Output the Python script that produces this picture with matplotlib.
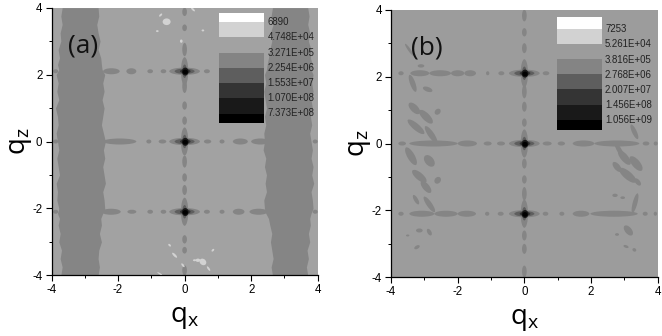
import matplotlib
matplotlib.use("Agg")
import matplotlib.pyplot as plt
from matplotlib.patches import Ellipse, Rectangle
from matplotlib.ticker import MultipleLocator

plt.rcParams["axes.unicode_minus"] = False

W, H = 662, 336
BG_A, BG_B = "#a2a2a2", "#9c9c9c"
BAND = "#858585"
LEVEL_COLORS = ["#848484", "#5e5e5e", "#343434", "#191919", "#000000"]

# legend text
labels_a = ["6890", "4.748E+04", "3.271E+05", "2.254E+06", "1.553E+07", "1.070E+08", "7.373E+08"]
labels_b = ["7253", "5.261E+04", "3.816E+05", "2.768E+06", "2.007E+07", "1.456E+08", "1.056E+09"]

# panel (a) bands: height, outer edge, inner edge of the left band; right band
band_z = [4.0, 3.75, 3.5, 3.25, 3.0, 2.75, 2.5, 2.3, 2.15, 2.0, 1.75, 1.5, 1.25, 1.0, 0.75, 0.5, 0.25, 0.0,
          -0.25, -0.5, -0.75, -1.0, -1.25, -1.5, -1.75, -2.0, -2.15, -2.3, -2.5, -2.75, -3.0, -3.25, -3.5, -3.75, -4.0]
left_outer = [-3.68, -3.72, -3.68, -3.74, -3.72, -3.80, -3.76, -3.82, -3.78, -3.86, -3.80, -3.84, -3.78, -3.88, -3.82, -3.80, -3.86, -3.82,
              -3.78, -3.84, -3.80, -3.76, -3.86, -3.82, -3.84, -3.78, -3.82, -3.76, -3.80, -3.74, -3.78, -3.70, -3.74, -3.68, -3.72]
left_inner = [-2.60, -2.58, -2.64, -2.60, -2.54, -2.60, -2.52, -2.50, -2.48, -2.40, -2.46, -2.42, -2.48, -2.42, -2.46, -2.50, -2.44, -2.38,
              -2.44, -2.40, -2.46, -2.42, -2.38, -2.46, -2.42, -2.40, -2.46, -2.52, -2.50, -2.56, -2.50, -2.58, -2.60, -2.56, -2.60]
right_inner = [2.64, 2.60, 2.66, 2.58, 2.62, 2.56, 2.52, 2.48, 2.46, 2.40, 2.44, 2.38, 2.42, 2.46, 2.40, 2.44, 2.38, 2.40,
               2.36, 2.44, 2.40, 2.46, 2.42, 2.46, 2.38, 2.40, 2.44, 2.52, 2.56, 2.62, 2.58, 2.62, 2.66, 2.60, 2.64]
right_outer = [3.70, 3.74, 3.70, 3.76, 3.72, 3.80, 3.78, 3.84, 3.80, 3.86, 3.82, 3.86, 3.80, 3.84, 3.78, 3.82, 3.76, 3.80,
               3.84, 3.80, 3.86, 3.82, 3.88, 3.80, 3.84, 3.86, 3.80, 3.76, 3.78, 3.72, 3.76, 3.68, 3.72, 3.66, 3.70]

# horizontal rows of dashes: (start, end) in qx
row_top_a = [(-3.95, -3.8), (-2.45, -1.95), (-1.75, -1.45), (-1.12, -0.95), (-0.72, -0.55), (0.58, 0.76)]
row_mid_a = [(-3.95, -3.8), (-2.45, -1.45), (-1.15, -1.0), (-0.78, -0.55), (0.58, 0.8), (1.05, 1.2), (1.45, 1.9), (2.0, 2.55), (3.85, 4.0)]
row_bot_a = [(-3.95, -3.8), (-2.5, -1.92), (-1.72, -1.45), (-1.12, -0.95), (-0.72, -0.55), (0.58, 0.76), (1.05, 1.2), (1.45, 1.8), (1.95, 2.5), (3.85, 4.0)]
row_top_b = [(-3.78, -3.62), (-3.42, -2.85), (-2.85, -2.2), (-2.2, -1.8), (-1.8, -1.45), (-1.15, -1.05), (-0.78, -0.6), (0.55, 0.75), (1.0, 1.1)]
row_mid_b = [(-3.78, -3.55), (-3.45, -2.0), (-2.0, -1.42), (-1.22, -0.98), (-0.82, -0.58), (0.55, 0.82), (1.0, 1.22), (1.45, 2.1), (2.1, 3.45), (3.55, 3.75), (3.88, 4.0)]
row_bot_b = [(-3.78, -3.62), (-3.45, -2.7), (-2.7, -2.0), (-2.0, -1.45), (-1.18, -1.05), (-0.8, -0.62), (0.55, 0.72), (1.05, 1.2), (1.45, 1.95), (1.98, 3.4), (3.55, 3.7), (3.88, 3.98)]

# vertical dashes on qx = 0: (start, end) in qz
col_a = [(3.75, 4.0), (3.3, 3.5), (2.55, 2.95), (1.45, 1.85), (0.95, 1.2), (0.5, 0.75), (-0.78, -0.42), (-1.2, -0.95), (-1.6, -1.3), (-3.05, -2.8), (-3.35, -3.15), (-4.0, -3.7)]
col_b = [(3.65, 4.0), (3.2, 3.45), (2.7, 3.0), (1.35, 1.75), (0.95, 1.25), (0.5, 0.75), (-0.75, -0.45), (-1.2, -0.95), (-1.7, -1.3), (-2.9, -2.6), (-3.3, -3.0), (-4.0, -3.65)]

# peak heights
peak_z = [2.1, 0.0, -2.1]

# light specks in (a): qx, qz, half-width, half-height, angle
specks_a = [(-0.54, 3.58, 0.12, 0.10, 0), (-0.72, 3.78, 0.06, 0.03, 45), (-0.82, 3.3, 0.04, 0.03, 0), (-0.1, 3.0, 0.04, 0.05, 0),
            (0.25, 3.95, 0.08, 0.03, -45), (0.55, 3.32, 0.04, 0.03, 0), (0.4, -3.55, 0.07, 0.05, 0), (0.55, -3.6, 0.11, 0.09, -40),
            (0.72, -3.8, 0.08, 0.03, -55), (-0.3, -3.4, 0.1, 0.035, -45), (-0.45, -3.1, 0.05, 0.03, -45), (0.3, -3.55, 0.05, 0.03, 0),
            (-0.05, -3.7, 0.07, 0.03, -50), (0.85, -3.25, 0.05, 0.03, 45), (-0.75, -3.95, 0.08, 0.02, -30)]

# darker streaks in (b): qx, qz, half-width, half-height, angle
streaks_b = [(-3.45, 2.8, 0.22, 0.04, -55), (-3.1, 2.32, 0.1, 0.05, 0), (-3.35, 1.8, 0.27, 0.08, -70), (-2.9, 1.62, 0.15, 0.07, -20),
             (-3.3, 1.05, 0.22, 0.11, -45), (-2.95, 0.8, 0.27, 0.11, -45), (-2.6, 0.95, 0.1, 0.08, 45), (-3.25, 0.5, 0.32, 0.1, -40),
             (-2.8, 0.27, 0.3, 0.09, -55), (-3.4, -0.38, 0.3, 0.11, -60), (-2.85, -0.52, 0.2, 0.13, -50), (-3.15, -0.98, 0.27, 0.11, -40),
             (-2.95, -1.3, 0.22, 0.1, -50), (-2.6, -1.1, 0.11, 0.09, 50), (-2.85, -1.82, 0.28, 0.08, -55), (-3.25, -1.68, 0.16, 0.06, -60),
             (-3.15, -2.6, 0.1, 0.06, 0), (-2.85, -2.65, 0.11, 0.06, -60), (-3.22, -3.1, 0.09, 0.05, 30), (-3.5, -2.75, 0.05, 0.03, 0),
             (2.85, -0.2, 0.27, 0.07, -60), (3.0, -0.42, 0.27, 0.11, -50), (3.35, -0.6, 0.27, 0.12, -50), (2.78, -0.7, 0.18, 0.09, -50),
             (3.1, -0.95, 0.32, 0.12, -40), (3.4, -1.15, 0.13, 0.07, -50), (2.72, -1.55, 0.08, 0.05, 0), (3.32, -1.78, 0.3, 0.07, 75),
             (2.95, -1.62, 0.07, 0.04, 0), (3.12, -2.6, 0.18, 0.1, -50), (2.78, -2.72, 0.06, 0.04, 0), (3.05, -3.08, 0.08, 0.04, -20),
             (3.3, -3.18, 0.06, 0.05, -30), (3.3, 0.35, 0.24, 0.07, -65)]


def ell(ax, x, z, rx, rz, color, angle=0, zorder=2):
    ax.add_patch(Ellipse((x, z), 2 * rx, 2 * rz, angle=angle, fc=color, ec="none", zorder=zorder))


def panel(box, bg, rows, col, peak_x, labels, tag, tag_xy, leg_x, leg_y, lab_x, lab_y):
    l, t, r, b = box
    ax = fig.add_axes([l / W, 1 - b / H, (r - l) / W, (b - t) / H])
    ax.set_xlim(-4, 4)
    ax.set_ylim(-4, 4)
    ax.set_facecolor(bg)
    for s in ("top", "right"):
        ax.spines[s].set_visible(False)
    for s in ("left", "bottom"):
        ax.spines[s].set_linewidth(0.9)
    ax.xaxis.set_major_locator(MultipleLocator(2))
    ax.xaxis.set_minor_locator(MultipleLocator(1))
    ax.yaxis.set_major_locator(MultipleLocator(2))
    ax.yaxis.set_minor_locator(MultipleLocator(1))
    ax.tick_params(which="major", length=4, width=0.8, labelsize=8.3, pad=2.5)
    ax.tick_params(which="minor", length=2.5, width=0.7)
    for t_ in ax.get_xticklabels() + ax.get_yticklabels():
        t_.set_family("Liberation Sans")
    ax.set_xlabel("q$_{\\mathregular{x}}$", fontsize=20, family="Open Sans", labelpad=5)
    ax.set_ylabel("q$_{\\mathregular{z}}$", fontsize=20, family="Open Sans", labelpad=-1)
    for z, row in zip(peak_z, rows):
        for a, e in row:
            ell(ax, (a + e) / 2, z, (e - a) / 2, 0.06 if e - a < 0.3 else 0.09, BAND)
    for a, e in col:
        ell(ax, peak_x, (a + e) / 2, 0.07, (e - a) / 2, BAND)
    for z in peak_z:
        ell(ax, peak_x, z, 0.46, 0.11, LEVEL_COLORS[0], zorder=3)
        ell(ax, peak_x, z, 0.11, 0.42, LEVEL_COLORS[0], zorder=3)
        ell(ax, peak_x, z, 0.3, 0.08, LEVEL_COLORS[1], zorder=4)
        ell(ax, peak_x, z, 0.07, 0.2, LEVEL_COLORS[1], zorder=4)
        ell(ax, peak_x + 0.02, z, 0.16, 0.06, LEVEL_COLORS[2], zorder=5)
        ell(ax, peak_x + 0.02, z - 0.01, 0.1, 0.12, LEVEL_COLORS[3], zorder=6)
        ell(ax, peak_x + 0.02, z - 0.02, 0.08, 0.07, LEVEL_COLORS[4], zorder=7)
    colors = ["#ffffff", "#d2d2d2", bg] + LEVEL_COLORS
    for i, c in enumerate(colors):
        ax.add_patch(Rectangle((leg_x[0], leg_y[i + 1]), leg_x[1] - leg_x[0], leg_y[i] - leg_y[i + 1],
                               fc=c, ec="none", zorder=8))
    for y, s in zip(lab_y, labels):
        ax.text(lab_x, y, s, fontsize=6.9, family="Liberation Sans", va="center", ha="left", color="#222222", zorder=9)
    ax.text(*tag_xy, tag, fontsize=19, family="Open Sans", va="center", ha="left", color="#111111", zorder=9)
    return ax


fig = plt.figure(figsize=(W / 100, H / 100), dpi=100)

ax_a = panel((51.5, 7.7, 317.7, 275.3), BG_A, [row_top_a, row_mid_a, row_bot_a], col_a, 0.0, labels_a, "(a)", (-3.5, 2.85),
             (1.03, 2.39), [3.84, 3.57, 3.12, 2.66, 2.21, 1.75, 1.29, 0.83, 0.54], 2.5,
             [3.57, 3.11, 2.65, 2.2, 1.74, 1.29, 0.84])
ax_a.fill_betweenx(band_z, left_outer, left_inner, color=BAND, lw=0, zorder=1)
ax_a.fill_betweenx(band_z, right_inner, right_outer, color=BAND, lw=0, zorder=1)
for x, z, rx, rz, ang in specks_a:
    ell(ax_a, x, z, rx, rz, "#d2d2d2", ang, 3)

ax_b = panel((391, 9.7, 657.7, 277.3), BG_B, [row_top_b, row_mid_b, row_bot_b], col_b, 0.0, labels_b, "(b)", (-3.4, 2.85),
             (0.97, 2.34), [3.77, 3.43, 2.98, 2.52, 2.07, 1.62, 1.16, 0.7, 0.4], 2.42,
             [3.43, 2.97, 2.51, 2.06, 1.61, 1.15, 0.7])
for x, z, rx, rz, ang in streaks_b:
    ell(ax_b, x, z, rx, rz, BAND, ang, 2)

fig.savefig("out.png", dpi=100, facecolor="white")
